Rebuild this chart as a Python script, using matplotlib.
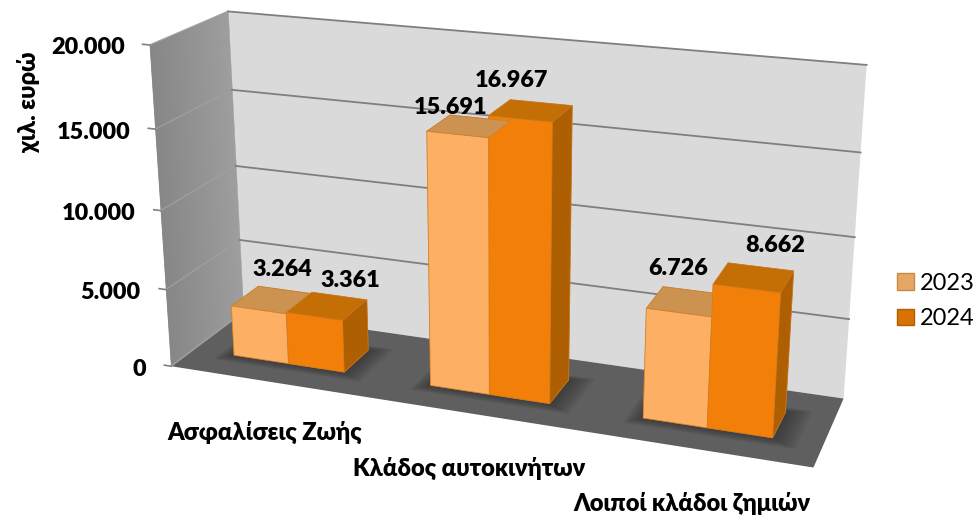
import numpy as np
import matplotlib
matplotlib.use('Agg')
import matplotlib.pyplot as plt
from matplotlib.patches import Patch
from mpl_toolkits.mplot3d import proj3d
from mpl_toolkits.mplot3d.art3d import Poly3DCollection

categories = ['Ασφαλίσεις Ζωής', 'Κλάδος αυτοκινήτων', 'Λοιποί κλάδοι ζημιών']
values_2023 = [3264, 15691, 6726]
values_2024 = [3361, 16967, 8662]
series_names = ['2023', '2024']
z_ticks = [0, 5000, 10000, 15000, 20000]
z_labels = ['0', '5.000', '10.000', '15.000', '20.000']
value_labels_2023 = ['3.264', '15.691', '6.726']
value_labels_2024 = ['3.361', '16.967', '8.662']

# label nudges in pixels, the source chart does not place them evenly
nudge_2023 = [(-3, 20), (-29, 11), (-17, 22)]
nudge_2024 = [(11, 16), (-30, 22), (15, 21)]
nudge_cat = [(-3, -51), (-3, -55), (-3, -55)]

plt.rcParams['font.family'] = ['Lato', 'Open Sans', 'DejaVu Sans']

W, H = 974, 516
side = 516 * 1.4669
fig = plt.figure(figsize=(W / 100, H / 100), dpi=100)
ax = fig.add_axes([111.56 / W, -96.28 / H, side / W, side / H], projection='3d', computed_zorder=False)
ax.patch.set_alpha(0)
ax.set_xlim(0, 3, view_margin=0)
ax.set_ylim(0, 1, view_margin=0)
ax.set_zlim(0, 20000, view_margin=0)
ax.view_init(elev=19.267, azim=-69.915, roll=0.022)
ax.set_proj_type('persp', focal_length=0.4379)
ax.set_box_aspect((4.1972, 1, 2.1394))
ax.set_xticks([])
ax.set_yticks([])
ax.set_zticks([])
ax.grid(False)
for axis, col in [(ax.xaxis, '#959595'), (ax.yaxis, '#DADADA'), (ax.zaxis, '#5F5F5F')]:
    axis.set_pane_color(col)
    axis.pane.set_edgecolor('none')
    axis.line.set_color((0, 0, 0, 0))

M = ax.get_proj()


def label_at(x, y, z, text, dx, dy, **kw):
    # place text at a 3d point with an offset in pixels
    px, py, _ = proj3d.proj_transform(x, y, z, M)
    ax.annotate(text, xy=(px, py), xytext=(dx, dy), textcoords='offset pixels',
                annotation_clip=False, zorder=20, **kw)


# left wall shading
strips = np.linspace(0, 1, 25)
for i in range(24):
    g = 0.53 + 0.09 * i / 23
    ax.add_collection3d(Poly3DCollection(
        [[(0, strips[i], 0), (0, strips[i + 1], 0), (0, strips[i + 1], 20000), (0, strips[i], 20000)]],
        facecolor=(g, g, g), edgecolor=(g, g, g), linewidth=0.3, zorder=0.5))

# gridlines and tick marks
for z in z_ticks:
    ax.plot([0, 0], [0, 1], [z, z], color='#A0A0A0', lw=0.9, zorder=1)
    ax.plot([-0.035, 0], [0, 0], [z, z], color='#808080', lw=1.2, zorder=1)
    if z > 0:
        ax.plot([0, 3], [1, 1], [z, z], color='#7F7F7F', lw=1.3, zorder=1)

bar_w = 0.285
y0, y1 = 0.30, 0.68
depth = y1 - y0
x_centers = np.arange(len(categories)) + 0.5

# soft shadow on the floor
for grow in np.linspace(0.07, 0.005, 10):
    for xc in x_centers:
        ax.add_collection3d(Poly3DCollection(
            [[(xc - bar_w - grow, y0 - grow * 1.5, 0), (xc + bar_w + grow * 1.6, y0 - grow * 1.5, 0),
              (xc + bar_w + grow * 1.6, y1 + grow, 0), (xc - bar_w - grow, y1 + grow, 0)]],
            facecolor=(0.15, 0.15, 0.15, 0.07), edgecolor='none', zorder=2))

# bars: bottom, top, front, back, left, right
faces_2023 = ['#FFB266', '#CC9250', '#FDB064', '#CC9250', '#FFB266', '#C98F50']
faces_2024 = ['#F28008', '#C46E06', '#F28008', '#C46E06', '#F28008', '#AE5F02']
xs, heights, colors = [], [], []
for i, xc in enumerate(x_centers):
    xs += [xc - bar_w, xc]
    heights += [values_2023[i], values_2024[i]]
    colors += faces_2023 + faces_2024
ax.bar3d(xs, [y0] * len(xs), [0] * len(xs), bar_w, depth, heights, color=colors, shade=False,
         edgecolor=(0.80, 0.48, 0.14, 0.7), linewidth=0.6, zsort='max', zorder=3)

# value labels
for i, xc in enumerate(x_centers):
    label_at(xc - bar_w / 2, y1, values_2023[i], value_labels_2023[i], *nudge_2023[i],
             ha='center', va='center', fontsize=16.8, fontweight='heavy', color='black')
    label_at(xc + bar_w / 2, y1, values_2024[i], value_labels_2024[i], *nudge_2024[i],
             ha='center', va='center', fontsize=16.8, fontweight='heavy', color='black')

# axis labels
for z, lab in zip(z_ticks, z_labels):
    label_at(0, 0, z, lab, -25, -3, ha='right', va='center', fontsize=16.8, fontweight='heavy', color='black')
for xc, name, nudge in zip(x_centers, categories, nudge_cat):
    label_at(xc, 0, 0, name, *nudge, ha='center', va='center', fontsize=17, fontweight='heavy', color='black')
fig.text(28 / W, 1 - 102 / H, 'χιλ. ευρώ', rotation=90, ha='center', va='center',
         fontsize=17, fontweight='heavy')

handles = [Patch(facecolor='#E6A765', edgecolor='#C98A45', label=series_names[0]),
           Patch(facecolor='#D87205', edgecolor='#B05F00', label=series_names[1])]
fig.legend(handles=handles, loc='center left', bbox_to_anchor=(897 / W, 1 - 301 / H), frameon=False,
           fontsize=17, handlelength=0.7, handleheight=0.7, handletextpad=0.25,
           labelspacing=0.6, borderpad=0, borderaxespad=0)

fig.savefig('out.png', dpi=100)
